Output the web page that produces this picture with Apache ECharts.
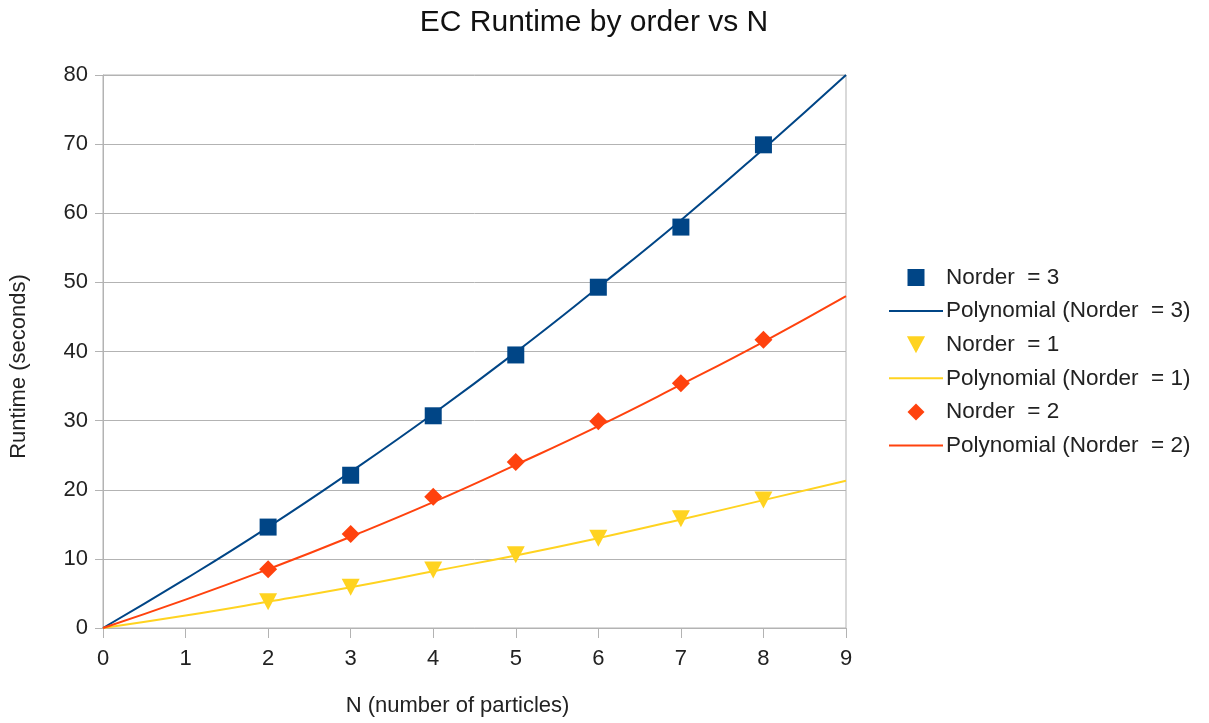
<!DOCTYPE html>
<html>
<head>
<meta charset="utf-8">
<script src="https://cdn.jsdelivr.net/npm/echarts@6/dist/echarts.min.js"></script>
<style>
html,body{margin:0;padding:0;background:#fff;}
#chart{width:1209px;height:723px;}
</style>
</head>
<body>
<div id="chart"></div>
<script>
// Measured points
const nValues = [2, 3, 4, 5, 6, 7, 8];
const order3 = [14.6, 22.1, 30.7, 39.5, 49.3, 58.0, 69.9];
const order1 = [3.8, 5.9, 8.4, 10.6, 13.0, 15.8, 18.5];
const order2 = [8.5, 13.6, 19.0, 24.0, 29.9, 35.4, 41.7];
// Trend lines at N = 0..9
const trendN = [0, 1, 2, 3, 4, 5, 6, 7, 8, 9];
const trend3 = [0, 7.1, 14.6, 22.6, 31.0, 39.9, 49.3, 59.0, 69.3, 80.0];
const trend1 = [0, 1.8, 3.8, 5.9, 8.2, 10.5, 13.0, 15.7, 18.5, 21.3];
const trend2 = [0, 4.1, 8.5, 13.2, 18.2, 23.6, 29.2, 35.2, 41.4, 48.0];
const seriesNames = ['Norder  = 3', 'Polynomial (Norder  = 3)', 'Norder  = 1', 'Polynomial (Norder  = 1)', 'Norder  = 2', 'Polynomial (Norder  = 2)'];

const BLUE = '#004586', YELLOW = '#ffd320', RED = '#ff420e';
const FONT = '"Liberation Sans", Arial, sans-serif';
const TXT = '#222';
const zip = (xs, ys) => xs.map((x, i) => [x, ys[i]]);

const ICON_SQUARE = 'path://M0,0H16V16H0Z';
const ICON_TRI = 'path://M0,0H16L8,15Z';
const ICON_DIAMOND = 'path://M8,0L16,8L8,16L0,8Z';
const ICON_LINE = 'path://M0,0H54V2H0Z';

const chart = echarts.init(document.getElementById('chart'));
chart.setOption({
  animation: false,
  backgroundColor: '#fff',
  textStyle: { fontFamily: FONT },
  title: {
    text: 'EC Runtime by order vs N',
    left: 589, top: 3, textAlign: 'center',
    textStyle: { fontFamily: FONT, fontSize: 30, fontWeight: 'normal', color: '#111' }
  },
  grid: { left: 103, right: 363, top: 75, bottom: 95, show: true, borderColor: '#b3b3b3', borderWidth: 1 },
  legend: {
    orient: 'vertical', left: 884, top: 261,
    itemWidth: 54, itemHeight: 17, itemGap: 10.6,
    symbolKeepAspect: true,
    data: [
      { name: seriesNames[0], icon: ICON_SQUARE },
      { name: seriesNames[1], icon: ICON_LINE },
      { name: seriesNames[2], icon: ICON_TRI },
      { name: seriesNames[3], icon: ICON_LINE },
      { name: seriesNames[4], icon: ICON_DIAMOND },
      { name: seriesNames[5], icon: ICON_LINE }
    ],
    textStyle: { fontFamily: FONT, fontSize: 22.5, color: TXT, padding: [0, 0, 0, -2] }
  },
  xAxis: {
    type: 'value', min: 0, max: 9, interval: 1,
    name: 'N (number of particles)', nameLocation: 'middle', nameGap: 67,
    nameTextStyle: { fontFamily: FONT, fontSize: 22, color: TXT, padding: [0, 34, 0, 0] },
    axisLine: { lineStyle: { color: '#b3b3b3' } },
    axisTick: { show: true, length: 10, lineStyle: { color: '#b3b3b3' } },
    axisLabel: { fontFamily: FONT, fontSize: 22, color: TXT, margin: 20 },
    splitLine: { show: false }
  },
  yAxis: {
    type: 'value', min: 0, max: 80, interval: 10,
    name: 'Runtime (seconds)', nameLocation: 'middle', nameGap: 73, nameRotate: 90,
    nameTextStyle: { fontFamily: FONT, fontSize: 22, color: TXT, padding: [0, 30, 0, 0] },
    axisLine: { show: true, lineStyle: { color: '#b3b3b3' } },
    axisTick: { show: true, length: 8, lineStyle: { color: '#b3b3b3' } },
    axisLabel: { fontFamily: FONT, fontSize: 22, color: TXT, margin: 15 },
    splitLine: { show: true, lineStyle: { color: '#b3b3b3' } }
  },
  series: [
    { name: seriesNames[1], type: 'line', smooth: true, symbol: 'none', showSymbol: false, data: zip(trendN, trend3),
      lineStyle: { color: BLUE, width: 2 }, itemStyle: { color: BLUE }, z: 2 },
    { name: seriesNames[3], type: 'line', smooth: true, symbol: 'none', showSymbol: false, data: zip(trendN, trend1),
      lineStyle: { color: YELLOW, width: 2 }, itemStyle: { color: YELLOW }, z: 2 },
    { name: seriesNames[5], type: 'line', smooth: true, symbol: 'none', showSymbol: false, data: zip(trendN, trend2),
      lineStyle: { color: RED, width: 2 }, itemStyle: { color: RED }, z: 2 },
    { name: seriesNames[0], type: 'scatter', symbol: 'rect', symbolSize: 17, data: zip(nValues, order3),
      itemStyle: { color: BLUE, opacity: 1 }, z: 3 },
    { name: seriesNames[2], type: 'scatter', symbol: 'triangle', symbolRotate: 180, symbolSize: [18, 17], data: zip(nValues, order1),
      itemStyle: { color: YELLOW, opacity: 1 }, z: 3 },
    { name: seriesNames[4], type: 'scatter', symbol: 'diamond', symbolSize: 18, data: zip(nValues, order2),
      itemStyle: { color: RED, opacity: 1 }, z: 3 }
  ]
});
</script>
</body>
</html>
